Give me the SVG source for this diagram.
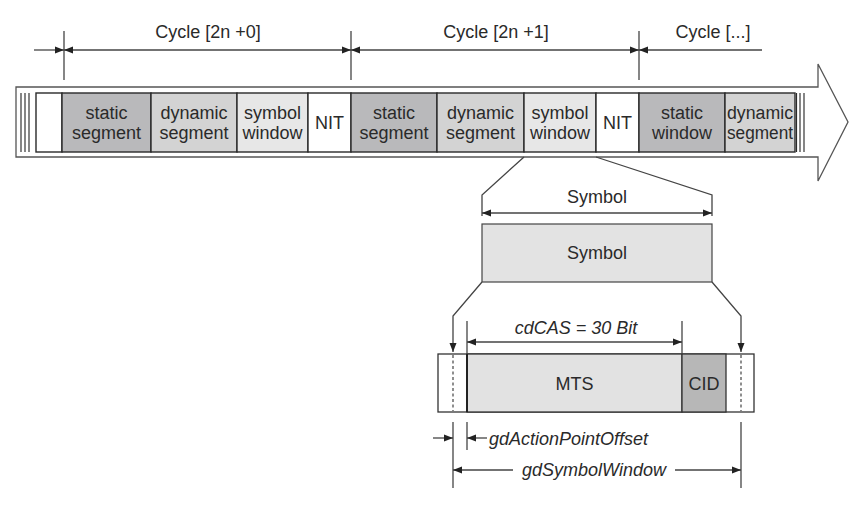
<svg xmlns="http://www.w3.org/2000/svg" width="861" height="505" viewBox="0 0 861 505">
<style>
text{font-family:"Liberation Sans",Arial,sans-serif;font-size:18px;fill:#2a2a2a;text-anchor:middle}
.it{font-style:italic}
.ln{stroke:#444;stroke-width:1.3;fill:none}
.cell{stroke:#2a2a2a;stroke-width:1.4}
.st{fill:#b9b9bb}.dy{fill:#d3d3d3}.sw{fill:#e7e7e7}.wh{fill:#fff}
.dash{stroke:#444;stroke-width:1.2;stroke-dasharray:3,2.5;fill:none}
</style>
<defs>
<marker id="ah" markerUnits="userSpaceOnUse" markerWidth="9" markerHeight="8" refX="9" refY="4" orient="auto-start-reverse">
<path d="M0,0.5 L9,4 L0,7.5 z" fill="#222"/>
</marker>
</defs>

<g id="timeline-arrow">
<polygon points="16,87 818,87 818,64 848,122 818,181 818,157 16,157" fill="#fff" stroke="#555" stroke-width="1.3"/>
<line class="ln" x1="21" y1="93" x2="21" y2="152"/>
<line class="ln" x1="25" y1="93" x2="25" y2="152"/>
<line class="ln" x1="29" y1="93" x2="29" y2="152"/>
<line class="ln" x1="800" y1="93" x2="800" y2="152"/>
<line class="ln" x1="804" y1="93" x2="804" y2="152"/>
</g>

<g id="segments">
<rect class="cell wh" x="36" y="93" width="26" height="59"/>
<g id="c0-static"><rect class="cell st" x="62" y="93" width="89" height="59"/><text x="106.5" y="119">static</text><text x="106.5" y="139">segment</text></g>
<g id="c0-dynamic"><rect class="cell dy" x="151" y="93" width="86" height="59"/><text x="194" y="119">dynamic</text><text x="194" y="139">segment</text></g>
<g id="c0-symbol"><rect class="cell sw" x="237" y="93" width="71" height="59"/><text x="272.5" y="119">symbol</text><text x="272.5" y="139">window</text></g>
<g id="c0-nit"><rect class="cell wh" x="308" y="93" width="43" height="59"/><text x="329.5" y="129">NIT</text></g>
<g id="c1-static"><rect class="cell st" x="351" y="93" width="86" height="59"/><text x="394" y="119">static</text><text x="394" y="139">segment</text></g>
<g id="c1-dynamic"><rect class="cell dy" x="437" y="93" width="87" height="59"/><text x="480.5" y="119">dynamic</text><text x="480.5" y="139">segment</text></g>
<g id="c1-symbol"><rect class="cell sw" x="524" y="93" width="72" height="59"/><text x="560" y="119">symbol</text><text x="560" y="139">window</text></g>
<g id="c1-nit"><rect class="cell wh" x="596" y="93" width="43" height="59"/><text x="617.5" y="129">NIT</text></g>
<g id="c2-static"><rect class="cell st" x="639" y="93" width="86" height="59"/><text x="682" y="119">static</text><text x="682" y="139">window</text></g>
<g id="c2-dynamic"><rect class="cell dy" x="725" y="93" width="70" height="59"/><text x="760" y="119" textLength="66" lengthAdjust="spacingAndGlyphs">dynamic</text><text x="760" y="139" textLength="66" lengthAdjust="spacingAndGlyphs">segment</text></g>
<line x1="796.5" y1="93" x2="796.5" y2="152" stroke="#2a2a2a" stroke-width="1.2"/>
</g>

<g id="cycle-labels">
<text x="208" y="38">Cycle [2n +0]</text>
<text x="496" y="38">Cycle [2n +1]</text>
<text x="713" y="38">Cycle [...]</text>
</g>

<g id="symbol-box">
<rect x="482" y="224" width="230" height="58" fill="#e3e3e3" stroke="#444" stroke-width="1.2"/>
<text x="597" y="259">Symbol</text>
<text x="597" y="203">Symbol</text>
</g>

<g id="mts-frame">
<rect x="438" y="354" width="316" height="58" fill="#fff" stroke="#333" stroke-width="1.3"/>
<rect x="467" y="354" width="215" height="58" fill="#e2e2e2" stroke="#333" stroke-width="1.3"/>
<line x1="467" y1="354" x2="467" y2="412" stroke="#222" stroke-width="2"/>
<text x="574.5" y="390">MTS</text>
<rect x="682" y="354" width="44" height="58" fill="#b7b7b7" stroke="#333" stroke-width="1.3"/>
<text x="704" y="390">CID</text>
<line class="dash" x1="453" y1="355" x2="453" y2="411"/>
<line class="dash" x1="741" y1="355" x2="741" y2="411"/>
</g>

<g id="connectors">
<line class="ln" x1="64" y1="31" x2="64" y2="80"/>
<line class="ln" x1="351" y1="31" x2="351" y2="80"/>
<line class="ln" x1="639" y1="31" x2="639" y2="80"/>
<line class="ln" x1="34" y1="50" x2="64" y2="50" marker-end="url(#ah)"/>
<line class="ln" x1="64" y1="50" x2="351" y2="50" marker-start="url(#ah)" marker-end="url(#ah)"/>
<line class="ln" x1="351" y1="50" x2="639" y2="50" marker-start="url(#ah)" marker-end="url(#ah)"/>
<line class="ln" x1="639" y1="50" x2="762" y2="50" marker-start="url(#ah)"/>

<polyline class="ln" points="524,157 482,195 482,216"/>
<polyline class="ln" points="596,157 712,195 712,216"/>
<line class="ln" x1="482" y1="213" x2="712" y2="213" marker-start="url(#ah)" marker-end="url(#ah)"/>

<polyline class="ln" points="482,282 453,316 453,352" marker-end="url(#ah)"/>
<polyline class="ln" points="712,282 741,316 741,352" marker-end="url(#ah)"/>

<line class="ln" x1="467" y1="321" x2="467" y2="354"/>
<line class="ln" x1="682" y1="321" x2="682" y2="354"/>
<line class="ln" x1="467" y1="342" x2="682" y2="342" marker-start="url(#ah)" marker-end="url(#ah)"/>

<line class="ln" x1="453" y1="422" x2="453" y2="488"/>
<line class="ln" x1="467" y1="422" x2="467" y2="450"/>
<line class="ln" x1="741" y1="422" x2="741" y2="488"/>
<line class="ln" x1="433" y1="438" x2="453" y2="438" marker-end="url(#ah)"/>
<line class="ln" x1="487" y1="438" x2="467" y2="438" marker-end="url(#ah)"/>
<line class="ln" x1="513" y1="470" x2="453" y2="470" marker-end="url(#ah)"/>
<line class="ln" x1="675" y1="470" x2="741" y2="470" marker-end="url(#ah)"/>
</g>

<g id="dimension-labels">
<text class="it" x="576" y="334">cdCAS = 30 Bit</text>
<text class="it" x="489" y="445" style="text-anchor:start">gdActionPointOffset</text>
<text class="it" x="594" y="476">gdSymbolWindow</text>
</g>
</svg>
